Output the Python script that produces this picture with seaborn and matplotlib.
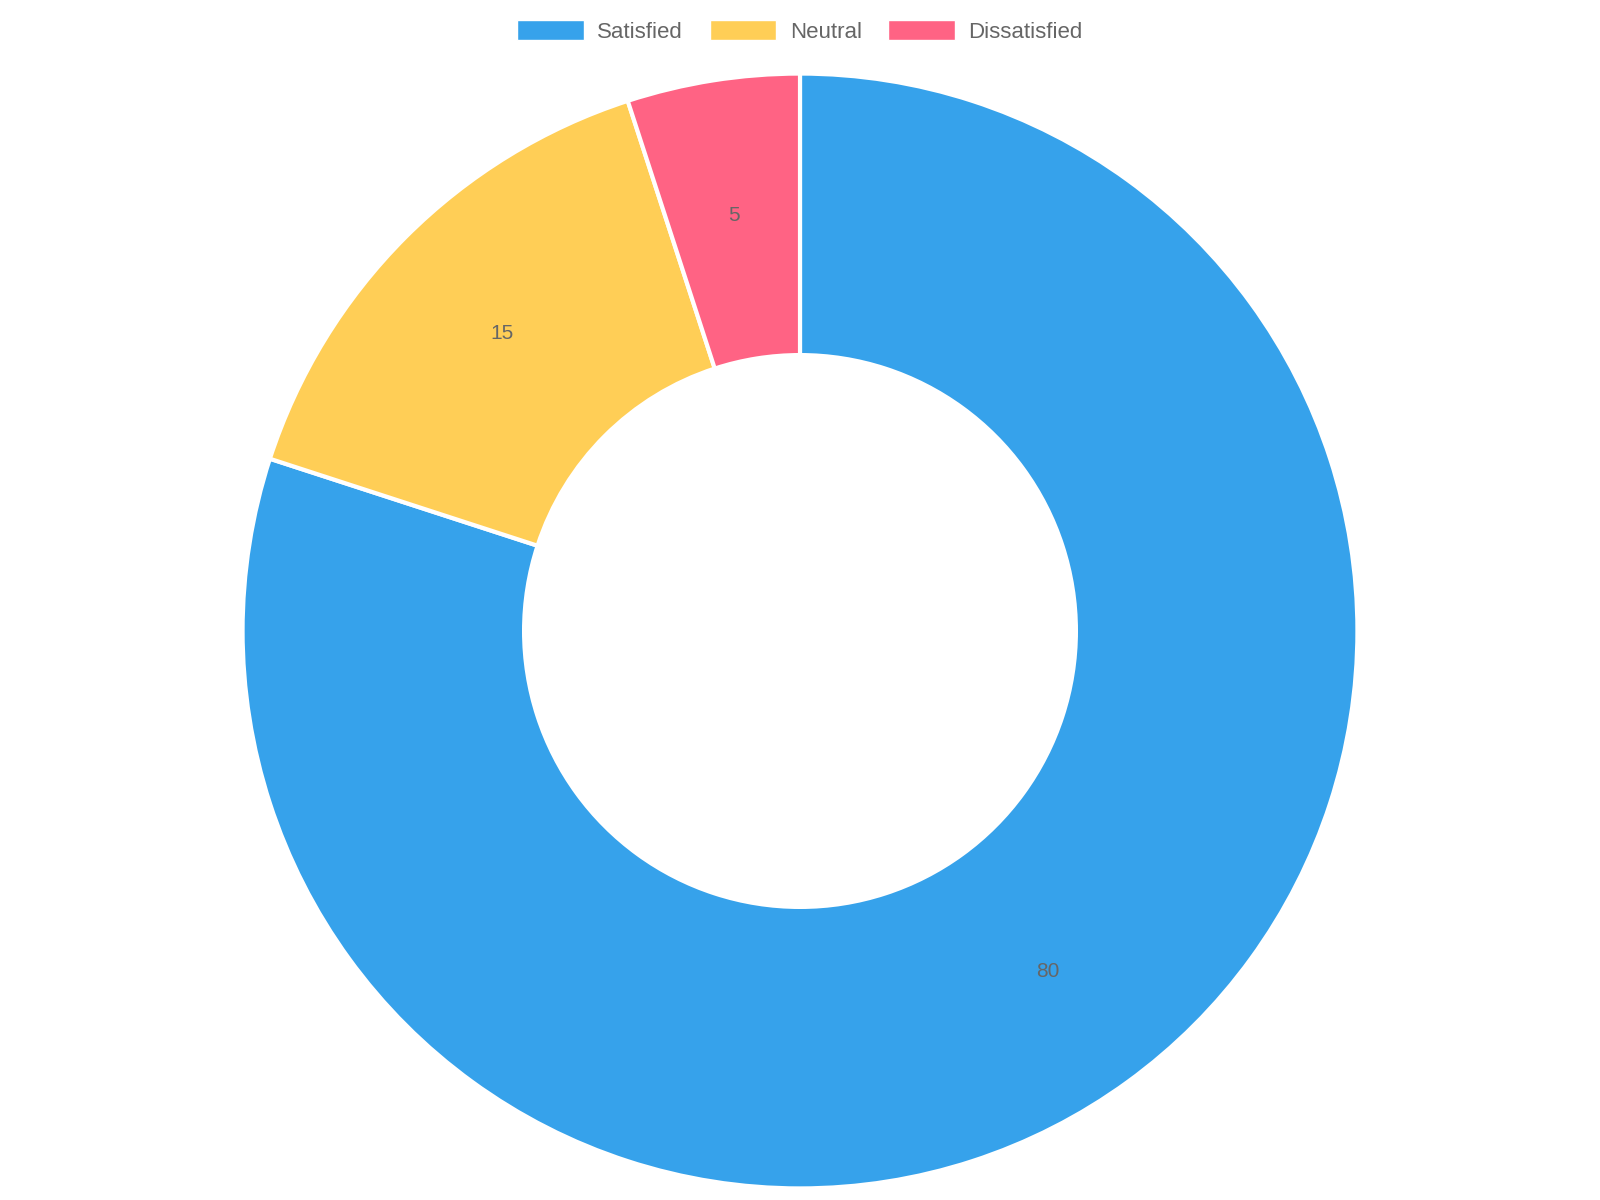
import matplotlib
matplotlib.use("Agg")
import matplotlib.pyplot as plt
import seaborn as sns
from matplotlib.patches import Patch

sns.set_theme(style="white")
plt.rcParams['font.family'] = ['Liberation Sans', 'DejaVu Sans']

categories = ["Satisfied", "Neutral", "Dissatisfied"]
values = [80, 15, 5]
colors = ["#36A2EB", "#FFCE56", "#FF6384"]

fig = plt.figure(figsize=(16, 12), dpi=100)
W, H = 1600, 1200
cx, cy, r = 800, 631, 563
ax = fig.add_axes([(cx - r) / W, (H - cy - r) / H, 2 * r / W, 2 * r / H])
wedges, texts = ax.pie(values, colors=colors, startangle=90, counterclock=False,
                       radius=1.0, labels=[str(v) for v in values], labeldistance=0.755,
                       wedgeprops=dict(width=0.505, edgecolor="white", linewidth=3),
                       textprops=dict(color="#666666", fontsize=15))
for t in texts:
    t.set_ha("center"); t.set_va("center")
ax.set_xlim(-1.01, 1.01); ax.set_ylim(-1.01, 1.01)
ax.set_aspect("equal"); ax.axis("off")

handles = [Patch(facecolor=c, edgecolor="white", label=l) for c, l in zip(colors, categories)]
fig.legend(handles=handles, loc="center", bbox_to_anchor=(0.5, 1 - 31 / 1176), ncol=3,
           frameon=False, fontsize=16, labelcolor="#666666", handlelength=3.0,
           handleheight=1.0, columnspacing=1.2, handletextpad=0.6)
fig.savefig("out.png", dpi=100, facecolor="white")
